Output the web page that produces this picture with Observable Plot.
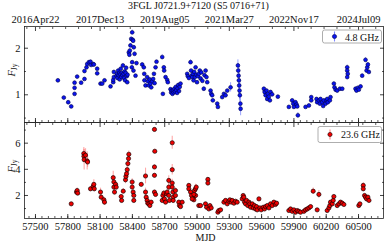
<!DOCTYPE html>
<html><head><meta charset="utf-8">
<script src="https://cdn.jsdelivr.net/npm/d3@7"></script>
<script src="https://cdn.jsdelivr.net/npm/@observablehq/plot@0.6"></script>
<style>
body{margin:0;background:#fff;}
#wrap{width:389px;height:246px;overflow:hidden;font-family:"Liberation Serif",serif;color:#111;}
#title{height:11px;line-height:11px;font-size:10px;text-align:center;padding-left:8px;box-sizing:border-box;white-space:nowrap;}
#wrap svg{display:block;}
#wrap svg text{font-family:"Liberation Serif",serif;}
#p2 svg{margin-top:-2px;}
</style>
</head><body>
<div id="wrap"><div id="title">3FGL J0721.9+7120 (S5 0716+71)</div><div id="p1"></div><div id="p2"></div></div>
<script>
// ---- 4.8 GHz series ----
const mjd48 = [57708,57763,57804,57832,57863,57863,57863,57887,57924,57955,57955,57974,57980,57996,58011,58017,58036,58042,58073,58073,
58104,58120,58141,58197,58222,58222,58228,58228,58252,58258,58262,58268,58272,58278,58282,58288,58292,58298,58302,58308,58312,58318,58322,58328,58332,58338,58342,58348,58352,58355,
58367,58372,58376,58382,58389,58398,58403,58407,58413,58420,58398,58395,58410,58429,58438,58491,58506,58510,58512,58522,58537,58545,58553,58560,58568,58575,58584,58593,58600,58606,58615,58624,
58677,58683,58692,58695,58708,58723,58729,58754,58760,58766,58772,58778,58784,58790,58796,58803,58808,58815,58820,58826,58833,58840,58847,
58909,58915,58925,58940,58945,58950,58956,58962,58968,58974,58980,58987,58993,59000,59008,59017,59026,59033,59040,59050,59063,59070,59080,59088,59095,
59126,59132,59141,59147,59188,59194,59234,59250,59265,59281,59312,59380,59383,59386,59389,59392,59395,59398,59403,59405,
59621,59628,59637,59646,59652,59658,59667,59677,59683,59698,59751,59853,59884,59894,59900,59915,59925,59931,59937,60008,60039,60061,60061,
60110,60116,60132,60141,60147,60163,60172,60178,60194,60203,60209,60215,60234,60240,60271,60277,60287,60302,60327,60349,60395,60395,60400,60395,
60472,60481,60494,60503,60519,60534,60565,60575,60581,60587,60596];
const flux48 = [1.31,0.94,0.84,0.75,1.02,1.15,1.26,1.39,1.26,1.34,1.51,1.59,1.66,1.70,1.71,1.64,1.66,1.65,1.56,1.46,
1.24,1.24,1.31,1.18,1.27,1.32,1.38,1.49,1.41,1.45,1.36,1.52,1.42,1.47,1.33,1.44,1.56,1.38,1.47,1.42,1.63,1.45,1.36,1.50,1.31,1.47,1.58,1.40,1.27,1.43,
1.91,1.86,1.95,2.06,2.20,2.34,2.18,2.16,2.02,1.88,1.70,1.59,1.52,1.41,1.68,1.65,1.59,1.45,1.31,1.20,1.38,1.29,1.20,1.33,1.24,1.16,1.29,1.34,1.45,1.25,1.59,1.71,
1.81,1.02,1.59,1.52,1.38,1.32,1.27,1.12,1.05,1.09,1.02,1.10,1.05,1.13,1.07,1.17,1.10,1.04,1.14,1.21,1.08,1.17,1.24,
1.45,1.40,1.36,1.70,1.52,1.41,1.38,1.45,1.31,1.49,1.38,1.59,1.43,1.27,1.40,1.45,1.52,1.35,1.48,1.30,1.13,1.42,1.52,1.38,1.27,
1.09,1.02,0.99,0.88,0.81,0.74,0.95,1.02,0.99,1.09,1.16,1.63,1.52,1.41,1.31,1.20,1.09,0.99,0.81,0.70,
1.13,1.06,0.99,1.09,0.91,1.02,0.96,0.88,1.06,1.01,0.96,0.74,0.88,0.81,0.74,0.84,0.79,0.75,0.56,0.74,0.77,0.95,0.88,
0.91,0.84,0.88,0.81,0.91,0.84,0.76,0.88,0.81,0.88,0.91,0.84,0.88,0.95,1.24,1.16,1.11,1.09,1.13,1.13,1.59,1.52,1.45,1.38,
1.13,1.09,1.15,1.11,1.18,1.41,1.75,1.52,1.59,1.65,1.49];
const err48 = [0.03,0.03,0.03,0.03,0.03,0.03,0.03,0.03,0.03,0.03,0.03,0.03,0.03,0.03,0.03,0.03,0.03,0.03,0.03,0.03,
0.03,0.03,0.03,0.03,0.03,0.03,0.03,0.03,0.03,0.03,0.03,0.03,0.03,0.03,0.03,0.03,0.03,0.03,0.03,0.03,0.03,0.03,0.03,0.03,0.03,0.03,0.03,0.03,0.03,0.03,
0.04,0.04,0.04,0.04,0.04,0.05,0.04,0.04,0.04,0.04,0.03,0.03,0.03,0.03,0.03,0.03,0.03,0.03,0.03,0.03,0.03,0.03,0.03,0.03,0.03,0.03,0.03,0.03,0.03,0.03,0.03,0.03,
0.05,0.03,0.03,0.03,0.03,0.03,0.03,0.03,0.03,0.03,0.03,0.03,0.03,0.03,0.03,0.03,0.03,0.03,0.03,0.03,0.03,0.03,0.03,
0.03,0.03,0.03,0.05,0.03,0.03,0.03,0.03,0.03,0.03,0.03,0.03,0.03,0.03,0.03,0.03,0.03,0.03,0.03,0.03,0.04,0.03,0.03,0.03,0.03,
0.03,0.03,0.03,0.03,0.03,0.03,0.03,0.03,0.03,0.03,0.10,0.12,0.15,0.2,0.3,0.25,0.2,0.35,0.15,0.15,
0.03,0.03,0.03,0.03,0.03,0.03,0.03,0.03,0.03,0.03,0.03,0.03,0.03,0.03,0.03,0.03,0.03,0.03,0.06,0.03,0.03,0.03,0.03,
0.03,0.03,0.03,0.03,0.03,0.03,0.03,0.03,0.03,0.03,0.03,0.03,0.03,0.03,0.04,0.03,0.03,0.03,0.03,0.03,0.05,0.04,0.04,0.04,
0.03,0.03,0.03,0.03,0.03,0.04,0.05,0.04,0.04,0.04,0.04];
// ---- 23.6 GHz series ----
const mjd236 = [57832,57881,57887,57892,57949,57950,57952,57965,57980,57984,58011,58036,58042,58046,58104,58110,58135,58141,
58222,58228,58228,58234,58244,58250,58296,58300,58315,58336,58340,58346,58352,58358,58364,58367,58398,58398,58407,58413,58413,
58482,58522,58522,58528,58537,58543,58553,58562,58574,58605,58608,58605,58605,58605,58615,
58677,58683,58692,58698,58708,58717,58723,58738,58738,58738,58744,58770,58770,58770,58770,58776,58779,58779,58800,58800,
58831,58837,58847,58862,58924,58924,58965,58971,58987,59017,58940,58949,58955,58971,58977,58986,58993,
59033,59079,59089,59110,59120,59132,59101,59101,59194,59203,59219,59250,59265,59281,59296,59305,59318,59327,59343,59358,59373,
59420,59429,59435,59442,59451,59460,59472,59482,59491,59497,59513,59522,59534,59544,59553,59559,59575,59584,59596,
59615,59627,59637,59652,59668,59683,59699,59714,59729,59739,59853,59869,59884,59900,59915,59931,59946,59962,
59993,60008,60024,60039,60055,60079,60116,60132,60209,60225,60234,60240,60256,60265,60271,60302,60318,60333,60349,60364,
60503,60513,60544,60544,60556,60565,60575,60587,60597];
const flux236 = [1.36,2.26,2.38,2.18,5.21,5.00,4.74,5.08,4.64,4.56,2.51,2.69,2.85,2.51,2.26,1.87,1.67,1.49,
3.36,3.03,2.64,2.26,2.85,2.64,1.92,1.62,2.33,3.20,3.46,3.67,3.97,4.44,4.82,5.15,3.03,2.64,2.26,2.00,1.62,
2.85,3.49,2.26,1.87,1.62,1.41,1.36,1.23,1.49,7.05,5.38,4.18,3.54,2.26,2.08,
1.62,2.00,2.18,1.74,1.49,2.13,2.26,3.15,2.64,2.00,1.62,6.03,3.97,2.95,2.64,2.26,1.87,1.62,2.38,2.00,
1.49,1.23,1.15,1.49,2.77,2.51,1.87,1.67,2.00,1.23,2.26,2.00,1.74,2.08,2.38,2.51,2.64,
1.23,1.36,1.10,0.97,1.23,1.05,3.23,2.95,0.72,0.85,0.90,1.49,1.62,1.36,1.56,1.67,1.49,1.62,1.41,1.56,1.49,
1.74,2.00,1.87,1.49,1.36,1.62,1.23,1.49,1.36,1.10,1.36,1.05,1.23,0.97,1.15,0.90,1.74,1.05,0.90,
1.10,0.97,1.15,1.23,1.05,1.36,1.23,1.49,1.31,1.41,0.85,0.97,0.79,0.90,0.72,0.85,0.79,0.72,
0.79,0.90,0.97,1.05,1.15,2.33,0.90,2.08,0.85,1.05,1.23,1.49,1.36,1.62,1.92,1.23,1.36,1.49,1.41,1.31,
1.23,1.36,2.77,2.51,2.00,1.87,1.74,1.87,1.62];
const err236 = [0.08,0.15,0.2,0.15,0.45,0.5,0.8,0.5,0.7,0.4,0.15,0.2,0.35,0.15,0.3,0.2,0.2,0.25,
0.5,0.4,0.3,0.2,0.3,0.2,0.15,0.15,0.2,0.3,0.3,0.35,0.3,0.3,0.3,0.25,0.25,0.2,0.2,0.15,0.15,
0.15,0.6,0.3,0.2,0.15,0.15,0.1,0.1,0.1,0.15,0.15,0.15,0.15,0.15,0.15,
0.2,0.2,0.2,0.2,0.15,0.2,0.2,0.35,0.3,0.2,0.2,0.5,0.4,0.3,0.25,0.2,0.2,0.2,0.2,0.2,
0.15,0.1,0.1,0.1,0.15,0.15,0.15,0.15,0.15,0.1,0.15,0.15,0.15,0.15,0.2,0.35,0.2,
0.1,0.1,0.1,0.1,0.1,0.1,0.15,0.15,0.08,0.08,0.08,0.1,0.1,0.1,0.1,0.1,0.1,0.1,0.1,0.1,0.1,
0.12,0.12,0.12,0.1,0.1,0.1,0.1,0.1,0.1,0.1,0.1,0.1,0.1,0.1,0.1,0.1,0.12,0.1,0.1,
0.1,0.1,0.1,0.1,0.1,0.1,0.1,0.1,0.1,0.1,0.08,0.08,0.08,0.08,0.08,0.08,0.08,0.08,
0.08,0.08,0.08,0.08,0.1,0.25,0.08,0.3,0.1,0.1,0.1,0.1,0.1,0.1,0.12,0.1,0.1,0.1,0.1,0.1,
0.1,0.1,0.2,0.2,0.15,0.15,0.15,0.15,0.15];
// ---- ticks / labels ----
const xMajorTicks = [57500,57800,58100,58400,58700,59000,59300,59600,59900,60200,60500];
const xMinorTicks = d3.range(57440, 60732, 60);
const topTicks = [57500,58100,58700,59300,59900,60500];
const topTickLabels = ["2016Apr22","2017Dec13","2019Aug05","2021Mar27","2022Nov17","2024Jul09"];
const topMinorTicks = d3.range(57420, 60732, 120);
const yTicks48 = [1,2], yMinor48 = [0.5,1.5];
const yTicks236 = [2,4,6], yMinor236 = [1,3,5,7];
const legend48 = "4.8 GHz", legend236 = "23.6 GHz";
const xLabel = "MJD";

const d48 = mjd48.map((m,i)=>({mjd:m, f:flux48[i], e:err48[i]}));
const d236 = mjd236.map((m,i)=>({mjd:m, f:flux236[i], e:err236[i]}));
const xDomain = [57398, 60732];
const style = {fontFamily:"'Liberation Serif', serif", fontSize:"10.5px", background:"transparent", overflow:"visible", color:"#111"};

function frameTicks(yMajor, yMinor, withTopLabels) {
  const m = [
    Plot.frame({stroke:"#222", strokeWidth:0.8}),
    Plot.axisX(xMinorTicks, {anchor:"bottom", tickSize:-2, fill:"none", strokeWidth:0.7, label:null}),
    Plot.axisX(xMajorTicks, {anchor:"bottom", tickSize:-4, fill:"none", strokeWidth:0.8, label:null}),
    Plot.axisX(topMinorTicks, {anchor:"top", tickSize:-2, fill:"none", strokeWidth:0.7, label:null}),
    Plot.axisX(topTicks, {anchor:"top", tickSize:-4, fill:"none", strokeWidth:0.8, label:null}),
    Plot.axisY(yMinor, {anchor:"left", tickSize:-2, fill:"none", strokeWidth:0.7, label:null}),
    Plot.axisY(yMajor, {anchor:"left", tickSize:-4, fill:"none", strokeWidth:0.8, label:null}),
    Plot.axisY(yMinor, {anchor:"right", tickSize:-2, fill:"none", strokeWidth:0.7, label:null}),
    Plot.axisY(yMajor, {anchor:"right", tickSize:-4, fill:"none", strokeWidth:0.8, label:null}),
    Plot.axisY(yMajor, {anchor:"left", tickSize:0, tickPadding:4, label:null, tickFormat:d=>String(d)})
  ];
  if (withTopLabels) m.push(Plot.axisX(topTicks, {anchor:"top", tickSize:0, tickPadding:4, label:null, tickFormat:d=>topTickLabels[topTicks.indexOf(d)]}));
  else m.push(Plot.axisX(xMajorTicks, {anchor:"bottom", tickSize:0, tickPadding:4.5, label:null, tickFormat:d=>String(d)}));
  return m;
}

const p1 = Plot.plot({
  width:389, height:112, marginTop:15, marginBottom:1, marginLeft:24, marginRight:6,
  style,
  x:{domain:xDomain, axis:null, label:null},
  y:{domain:[0.405,2.466], axis:null, label:null},
  marks:[
    Plot.ruleX(d48, {x:"mjd", y1:d=>d.f-d.e, y2:d=>d.f+d.e, stroke:"#7b86ff", strokeOpacity:0.75, strokeWidth:1}),
    Plot.dot(d48, {x:"mjd", y:"f", r:1.9, fill:"#0a14f0", stroke:"#00004a", strokeWidth:0.6}),
    ...frameTicks(yTicks48, yMinor48, true)
  ]
});
const p2 = Plot.plot({
  width:389, height:125, marginTop:1, marginBottom:28, marginLeft:24, marginRight:6,
  style,
  x:{domain:xDomain, axis:null, label:null},
  y:{domain:[0.24,7.58], axis:null, label:null},
  marks:[
    Plot.ruleX(d236, {x:"mjd", y1:d=>d.f-d.e, y2:d=>d.f+d.e, stroke:"#ff7070", strokeOpacity:0.6, strokeWidth:1.1}),
    Plot.dot(d236, {x:"mjd", y:"f", r:2.1, fill:"#f00000", stroke:"#1a0000", strokeWidth:0.7}),
    ...frameTicks(yTicks236, yMinor236, false),
    Plot.text([xLabel], {frameAnchor:"bottom", dx:1.5, dy:22.6, fontSize:10, text:d=>d})
  ]
});
document.getElementById("p1").appendChild(p1);
document.getElementById("p2").appendChild(p2);

function yLabel(svg, x, y) {
  const t = svg.append("text").attr("transform", `translate(${x},${y}) rotate(-90)`)
    .attr("text-anchor","middle").attr("fill","#111");
  t.append("tspan").attr("font-style","italic").attr("font-size","10.5px").text("F");
  t.append("tspan").attr("font-size","7.5px").attr("dy","2").text("Jy");
}
function legend(svg, bx, by, bw, bh, mx, tx, ty, color, edge, ecolor, label) {
  const g = svg.append("g");
  g.append("rect").attr("x",bx).attr("y",by).attr("width",bw).attr("height",bh).attr("rx",2)
    .attr("fill","white").attr("fill-opacity",0.85).attr("stroke","#999").attr("stroke-width",0.8);
  const cy = by + bh/2;
  g.append("line").attr("x1",mx).attr("x2",mx).attr("y1",cy-5).attr("y2",cy+5).attr("stroke",ecolor).attr("stroke-width",1.1);
  g.append("circle").attr("cx",mx).attr("cy",cy).attr("r",2.1).attr("fill",color).attr("stroke",edge).attr("stroke-width",0.6);
  g.append("text").attr("x",tx).attr("y",ty).attr("text-anchor","end").attr("fill","#111")
    .style("font-size","10px").text(label);
}
const s1 = d3.select(p1), s2 = d3.select(p2);
yLabel(s1, 15, 59);
yLabel(s2, 15, 45);
legend(s1, 322.5, 19, 59, 13, 334.5, 379, 29.5, "#0a14f0", "#00004a", "#7b86ff", legend48);
legend(s2, 318, 5.5, 63.5, 16, 330, 380, 16.8, "#f00000", "#1a0000", "#ff8080", legend236);
</script>
</body></html>
